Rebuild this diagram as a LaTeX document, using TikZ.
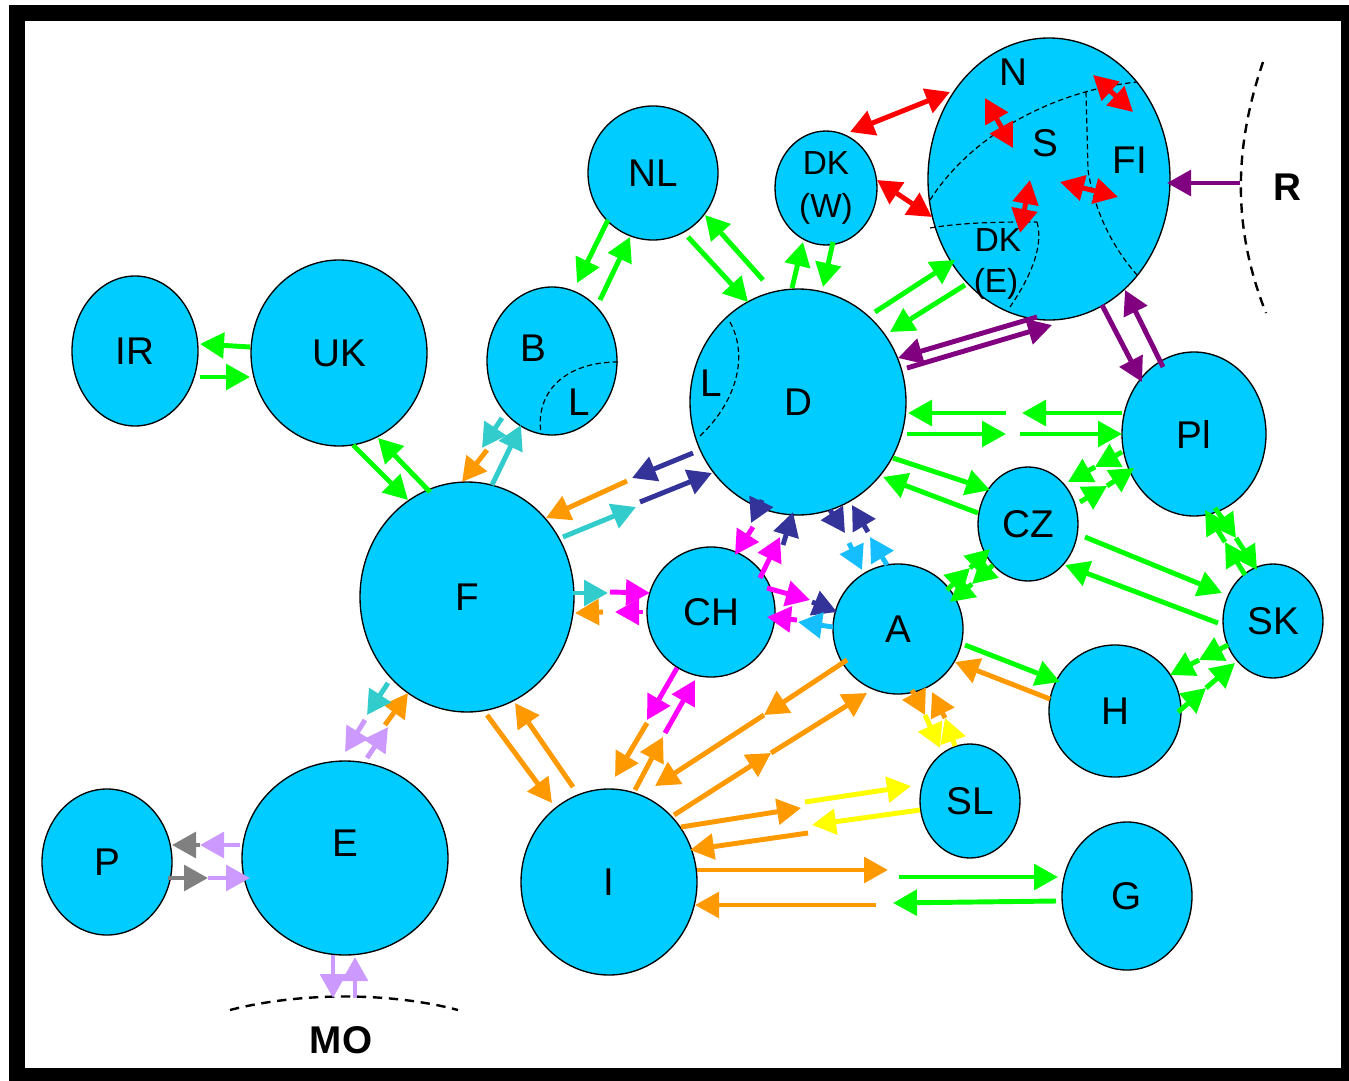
\documentclass[tikz,border=0pt]{standalone}
\usepackage{fontspec}
\setmainfont{Liberation Sans}
\usetikzlibrary{arrows.meta,shapes.geometric}
\definecolor{nodefill}{RGB}{0,204,255}
\definecolor{cgreen}{RGB}{0,255,0}
\definecolor{corange}{RGB}{255,153,0}
\definecolor{cred}{RGB}{255,0,0}
\definecolor{cpurple}{RGB}{128,0,128}
\definecolor{cnavy}{RGB}{51,51,153}
\definecolor{cmag}{RGB}{255,0,255}
\definecolor{cteal}{RGB}{51,204,204}
\definecolor{csky}{RGB}{20,190,255}
\definecolor{clav}{RGB}{204,153,255}
\definecolor{cgray}{RGB}{128,128,128}
\definecolor{cyel}{RGB}{255,255,0}
\begin{document}
\begin{tikzpicture}[x=0.75pt,y=-0.75pt,
 cty/.style={ellipse, draw=black, line width=1pt, fill=nodefill, inner sep=0pt, font=\fontsize{29}{30}\selectfont},
 lbl/.style={font=\fontsize{29}{30}\selectfont, inner sep=0pt},
 lbls/.style={font=\fontsize{25}{26}\selectfont, inner sep=0pt},
 lblb/.style={font=\fontsize{29}{30}\selectfont\bfseries, inner sep=0pt},
 ln/.style={line width=3.7pt, -{Triangle[length=18pt,width=19pt]}},
 dln/.style={line width=3.7pt, {Triangle[length=18pt,width=19pt]}-{Triangle[length=18pt,width=19pt]}},
 bnd/.style={line width=1.8pt, dash pattern=on 7pt off 5pt},
 idash/.style={line width=0.9pt, dash pattern=on 4pt off 2.5pt},
 ]
% frame
\fill[white] (0,0) rectangle (1349,1081);
\fill[black] (9,5) rectangle (1349,1081);
\fill[white] (25,21) rectangle (1341,1068);

% countries
\node[cty, minimum width=94.5pt, minimum height=112.5pt] (IR) at (135,351) {IR};
\node[cty, minimum width=132pt, minimum height=139.5pt] (UK) at (339,353) {UK};
\node[cty, minimum width=97.5pt, minimum height=100.5pt] (NL) at (653,173) {NL};
\node[cty, minimum width=76.5pt, minimum height=85.5pt, font=\fontsize{25}{32}\selectfont, align=center] (DKW) at (826,188) {DK\\(W)};
\node[cty, minimum width=181.5pt, minimum height=211.5pt] (NORD) at (1049,179) {};
\node[cty, minimum width=97.5pt, minimum height=111pt] (B) at (552,361) {};
\node[cty, minimum width=162pt, minimum height=169.5pt] (D) at (798,402) {D};
\node[cty, minimum width=160.5pt, minimum height=172.5pt] (F) at (467,597) {F};
\node[cty, minimum width=96pt, minimum height=97.5pt] (CH) at (711,612) {CH};
\node[cty, minimum width=97.5pt, minimum height=97.5pt] (A) at (898,629) {A};
\node[cty, minimum width=75pt, minimum height=85.5pt] (CZ) at (1028,524) {CZ};
\node[cty, minimum width=108pt, minimum height=123pt] (PL) at (1194,434) {Pl};
\node[cty, minimum width=75pt, minimum height=85.5pt] (SK) at (1273,621) {SK};
\node[cty, minimum width=99pt, minimum height=99pt] (H) at (1115,711) {H};
\node[cty, minimum width=75pt, minimum height=85.5pt] (SL) at (970,801) {SL};
\node[cty, minimum width=132pt, minimum height=139.5pt] (I) at (609,882) {I};
\node[cty, minimum width=97.5pt, minimum height=111pt] (G) at (1127,896) {G};
\node[cty, minimum width=154.5pt, minimum height=145.5pt] (E) at (345,858) {};
\node[cty, minimum width=97.5pt, minimum height=109.5pt] (P) at (107,862) {P};

% inner boundaries
\draw[idash] (618,362) .. controls (565,362) and (535,392) .. (541,433);
\draw[idash] (730,322) .. controls (748,355) and (738,400) .. (700,436);
\draw[idash] (930,200) .. controls (975,130) and (1060,90) .. (1137,82);
\draw[idash] (1086,92) -- (1088,170) .. controls (1095,215) and (1115,250) .. (1137,275);
\draw[idash] (930,228) .. controls (965,222) and (1005,222) .. (1037,222);
\draw[idash] (1037,222) .. controls (1045,250) and (1025,285) .. (1010,307);

% labels
\node[lbl] (lB) at (533,348) {B};
\node[lbl] (lBL) at (579,402) {L};
\node[lbl] (lDL) at (711,383) {L};
\node[lbl] (lE) at (345,843) {E};
\node[lbl] (lN) at (1013,72) {N};
\node[lbl] (lS) at (1045,143) {S};
\node[lbl] (lFI) at (1130,160) {FI};
\node[lbls] (lDK) at (998,240) {DK};
\node[lbls] (lDE) at (996,284) {(E)};
\node[lblb] (lR) at (1287,187) {R};
\node[lblb] (lMO) at (341,1040) {MO};

% outer boundaries
\draw[bnd] (1263,62) .. controls (1233,150) and (1233,230) .. (1266,313);
\draw[bnd] (230,1010) .. controls (300,992) and (390,992) .. (458,1010);

% green
\draw[ln,cgreen] (250,347) -- (200,344);
\draw[ln,cgreen] (200,377) -- (250,377);
\draw[ln,cgreen] (353,445) -- (408,500);
\draw[ln,cgreen] (430,492) -- (378,438);
\draw[ln,cgreen] (608,220) -- (577,283);
\draw[ln,cgreen] (600,300) -- (630,237);
\draw[ln,cgreen] (688,237) -- (748,302);
\draw[ln,cgreen] (763,280) -- (705,215);
\draw[ln,cgreen] (792,288) -- (803,242);
\draw[ln,cgreen] (833,242) -- (823,287);
\draw[ln,cgreen] (875,312) -- (955,260);
\draw[ln,cgreen] (965,285) -- (890,332);
\draw[ln,cgreen] (1122,413) -- (1022,413);
\draw[ln,cgreen] (1006,413) -- (908,413);
\draw[ln,cgreen] (907,434) -- (1006,434);
\draw[ln,cgreen] (1020,434) -- (1122,434);
\draw[ln,cgreen] (893,458) -- (990,490);
\draw[ln,cgreen] (978,513) -- (883,477);
\draw[ln,cgreen] (1085,537) -- (1222,593);
\draw[ln,cgreen] (1218,623) -- (1065,565);
\draw[ln,cgreen] (947,590) -- (970,568);
\draw[ln,cgreen] (970,568) -- (990,549);
\draw[ln,cgreen] (993,565) -- (972,584);
\draw[ln,cgreen] (972,584) -- (950,602);
\draw[ln,cgreen] (1122,452) -- (1095,467);
\draw[ln,cgreen] (1095,467) -- (1068,482);
\draw[ln,cgreen] (1080,502) -- (1107,486);
\draw[ln,cgreen] (1107,486) -- (1134,468);
\draw[ln,cgreen] (1215,508) -- (1236,538);
\draw[ln,cgreen] (1236,538) -- (1257,570);
\draw[ln,cgreen] (1245,575) -- (1225,542);
\draw[ln,cgreen] (1225,542) -- (1205,510);
\draw[ln,cgreen] (1228,645) -- (1199,660);
\draw[ln,cgreen] (1199,660) -- (1170,675);
\draw[ln,cgreen] (1178,712) -- (1206,688);
\draw[ln,cgreen] (1206,688) -- (1235,663);
\draw[ln,cgreen] (965,645) -- (1060,682);
\draw[ln,corange] (1050,699) -- (955,662);
\draw[ln,corange] (697,870) -- (888,870);
\draw[ln,cgreen] (899,877) -- (1058,877);
\draw[ln,cgreen] (1056,901) -- (893,903);
\draw[ln,corange] (876,905) -- (695,905);

% red
\draw[dln,cred] (850,132) -- (950,92);
\draw[dln,cred] (877,180) -- (932,217);
\draw[dln,cred] (985,98) -- (1013,148);
\draw[dln,cred] (1093,75) -- (1133,112);
\draw[dln,cred] (1060,182) -- (1118,197);
\draw[dln,cred] (1030,180) -- (1020,233);

% purple
\draw[ln,cpurple] (1037,317) -- (898,358);
\draw[ln,cpurple] (907,368) -- (1052,325);
\draw[ln,cpurple] (1102,305) -- (1142,382);
\draw[ln,cpurple] (1163,367) -- (1125,290);
\draw[ln,cpurple] (1240,183) -- (1167,183);

% F-D
\draw[ln,cteal] (563,537) -- (636,507);
\draw[ln,cnavy] (640,502) -- (712,473);
\draw[ln,cnavy] (693,453) -- (632,478);
\draw[ln,corange] (627,481) -- (546,518);
% B-F
\draw[ln,cteal] (502,418) -- (482,448);
\draw[ln,corange] (487,450) -- (462,482);
\draw[ln,cteal] (492,485) -- (521,425);
% F-CH
\draw[ln,cteal] (573,593) -- (608,593);
\draw[ln,cmag] (610,592) -- (650,593);
\draw[ln,cmag] (643,612) -- (615,612);
\draw[ln,corange] (603,612) -- (575,613);
% D-CH
\draw[ln,cnavy] (762,500) -- (751,523);
\draw[ln,cmag] (753,527) -- (735,555);
\draw[ln,cmag] (760,578) -- (780,537);
\draw[ln,cnavy] (783,545) -- (793,512);
% CH-A
\draw[ln,cmag] (767,588) -- (810,600);
\draw[ln,cnavy] (812,602) -- (837,612);
\draw[ln,csky] (833,627) -- (798,622);
\draw[ln,cmag] (797,620) -- (767,617);
% D-A
\draw[ln,cnavy] (830,510) -- (845,533);
\draw[ln,csky] (849,543) -- (862,570);
\draw[ln,csky] (887,565) -- (870,537);
\draw[ln,cnavy] (868,532) -- (852,505);
% F-E
\draw[ln,clav] (367,758) -- (388,727);
\draw[ln,corange] (385,725) -- (408,693);
\draw[ln,cteal] (388,683) -- (367,715);
\draw[ln,clav] (365,720) -- (345,752);
% E-P
\draw[ln,clav] (240,845) -- (200,845);
\draw[ln,cgray] (200,845) -- (172,845);
\draw[ln,cgray] (168,878) -- (208,878);
\draw[ln,clav] (208,878) -- (250,878);
% E-MO
\draw[ln,clav] (333,955) -- (333,998);
\draw[ln,clav] (355,998) -- (355,957);
% F-I
\draw[ln,corange] (487,715) -- (552,803);
\draw[ln,corange] (573,787) -- (515,703);
% CH-I
\draw[ln,cmag] (677,668) -- (647,720);
\draw[ln,corange] (647,723) -- (615,777);
\draw[ln,corange] (635,790) -- (663,737);
\draw[ln,cmag] (665,733) -- (695,680);
% A-I
\draw[ln,corange] (847,660) -- (764,715);
\draw[ln,corange] (764,715) -- (655,786);
\draw[ln,corange] (674,815) -- (771,753);
\draw[ln,corange] (771,753) -- (867,693);
% I-SL
\draw[ln,corange] (681,827) -- (801,808);
\draw[ln,cyel] (805,802) -- (911,786);
\draw[ln,cyel] (920,810) -- (812,825);
\draw[ln,corange] (808,833) -- (690,850);
% A-SL
\draw[ln,corange] (912,690) -- (925,715);
\draw[ln,cyel] (925,715) -- (940,748);
\draw[ln,cyel] (955,746) -- (945,718);
\draw[ln,corange] (945,718) -- (932,692);
\end{tikzpicture}
\end{document}
